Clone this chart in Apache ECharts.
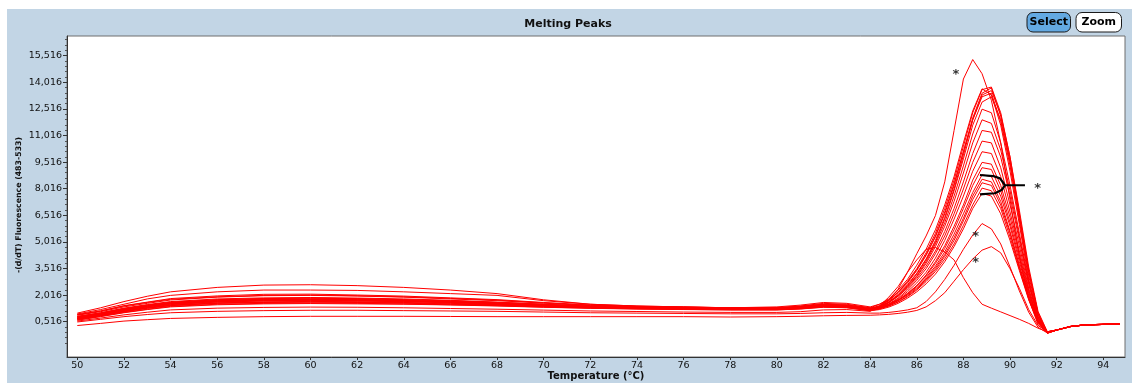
<!DOCTYPE html>
<html>
<head>
<meta charset="utf-8">
<title>Melting Peaks</title>
<script src="https://cdn.jsdelivr.net/npm/echarts@6/dist/echarts.min.js"></script>
<style>
  html, body { margin: 0; padding: 0; background: #ffffff; }
  #chart { width: 1132px; height: 383px; }
</style>
</head>
<body>
<div id="chart"></div>
<script>
// Temperature grid shared by every melting curve (°C)
const temps = [50, 51, 52, 53, 54, 56, 58, 60, 62, 64, 66, 68, 70, 72, 74, 76, 78, 80, 81, 82, 83, 84,
  84.4, 84.8, 85.2, 85.6, 86, 86.4, 86.8, 87.2, 87.6, 88,
  88.4, 88.8, 89.2, 89.6, 90, 90.4, 90.8, 91.2, 91.6, 92,
  92.6, 93.2, 94, 94.7];

// -(d/dT) fluorescence per sample, one value per temperature above
const wellTall = [0.9, 1.12, 1.4, 1.6, 1.78,
  1.92, 2.0, 2.02, 1.98, 1.92, 1.83, 1.73, 1.58, 1.44, 1.37, 1.33, 1.3,
  1.3, 1.37, 1.5, 1.46, 1.3,
  1.5, 1.75, 2.35, 3.3, 4.35, 5.35, 6.5, 8.4, 11.3, 14.2,
  15.3, 14.5, 13.0, 10.6, 7.4, 4.2, 1.8, 0.35, -0.1, 0.05,
  0.25, 0.34, 0.37, 0.38];
const wellEarly = [0.55, 0.72, 0.9, 1.05, 1.18,
  1.28, 1.32, 1.34, 1.33, 1.3, 1.26, 1.22, 1.17, 1.12, 1.09, 1.06, 1.04,
  1.04, 1.08, 1.18, 1.2, 1.1,
  1.4, 1.9, 2.5, 3.3, 4.0, 4.6, 4.7, 4.45, 4.0, 3.0,
  2.15, 1.5, 1.28, 1.07, 0.86, 0.65, 0.42, 0.15, -0.05, 0.05,
  0.24, 0.33, 0.36, 0.37];
const wellLowA = [0.5, 0.65, 0.8, 0.92, 1.02,
  1.1, 1.14, 1.16, 1.16, 1.14, 1.12, 1.1, 1.06, 1.02, 1.0, 0.98, 0.96,
  0.96, 0.98, 1.02, 1.04, 1.0,
  1.0, 1.04, 1.1, 1.18, 1.3, 1.65, 2.2, 2.9, 3.7, 4.6,
  5.4, 6.05, 5.75, 4.9, 3.6, 2.25, 1.05, 0.2, -0.12, 0.05,
  0.24, 0.33, 0.36, 0.37];
const wellLowB = [0.3, 0.42, 0.55, 0.63, 0.7,
  0.76, 0.8, 0.82, 0.82, 0.82, 0.81, 0.8, 0.8, 0.8, 0.8, 0.8, 0.78,
  0.8, 0.82, 0.85, 0.87, 0.88,
  0.9, 0.93, 0.98, 1.05, 1.15, 1.35, 1.7, 2.15, 2.8, 3.45,
  4.05, 4.55, 4.75, 4.4, 3.5, 2.4, 1.2, 0.3, -0.05, 0.05,
  0.24, 0.33, 0.36, 0.37];
const well01 = [0.92, 1.12, 1.42, 1.62, 1.82,
  1.97, 2.06, 2.07, 2.02, 1.96, 1.86, 1.76, 1.6, 1.46, 1.38, 1.34, 1.3,
  1.3, 1.38, 1.5, 1.45, 1.26,
  1.42, 1.75, 2.2, 2.8, 3.5, 4.4, 5.5, 6.9, 8.5, 10.4,
  12.3, 13.6, 13.75, 12.3, 9.8, 6.6, 3.4, 1.0, -0.08, 0.05,
  0.24, 0.34, 0.37, 0.38];
const well02 = [0.8, 1.0, 1.25, 1.45, 1.6,
  1.75, 1.82, 1.85, 1.82, 1.76, 1.7, 1.6, 1.5, 1.38, 1.32, 1.3, 1.27,
  1.27, 1.33, 1.46, 1.42, 1.22,
  1.38, 1.7, 2.15, 2.7, 3.4, 4.25, 5.3, 6.6, 8.2, 10.1,
  12.0, 13.4, 13.7, 12.1, 9.6, 6.4, 3.3, 0.95, -0.14, 0.04,
  0.25, 0.33, 0.36, 0.37];
const well03 = [1.0, 1.3, 1.65, 1.95, 2.2,
  2.45, 2.58, 2.6, 2.55, 2.45, 2.3, 2.1, 1.75, 1.5, 1.4, 1.35, 1.3,
  1.35, 1.45, 1.6, 1.55, 1.35,
  1.5, 1.8, 2.3, 2.9, 3.7, 4.6, 5.7, 7.1, 8.7, 10.6,
  12.4, 13.65, 13.3, 11.6, 9.0, 6.0, 2.9, 0.8, -0.1, 0.05,
  0.25, 0.34, 0.37, 0.38];
const well04 = [0.7, 0.9, 1.15, 1.35, 1.5,
  1.64, 1.7, 1.72, 1.7, 1.66, 1.6, 1.52, 1.43, 1.34, 1.29, 1.27, 1.24,
  1.24, 1.3, 1.42, 1.38, 1.2,
  1.35, 1.65, 2.05, 2.6, 3.25, 4.05, 5.1, 6.4, 8.0, 9.9,
  11.9, 13.3, 13.55, 12.2, 9.8, 6.8, 3.6, 1.1, -0.05, 0.05,
  0.24, 0.33, 0.36, 0.37];
const well05 = [0.78, 0.98, 1.22, 1.42, 1.58,
  1.72, 1.78, 1.8, 1.78, 1.72, 1.66, 1.56, 1.46, 1.36, 1.31, 1.28, 1.25,
  1.25, 1.32, 1.44, 1.4, 1.21,
  1.4, 1.72, 2.18, 2.75, 3.45, 4.3, 5.35, 6.7, 8.3, 10.1,
  11.9, 13.2, 13.4, 11.8, 9.3, 6.2, 3.1, 0.9, -0.12, 0.05,
  0.25, 0.34, 0.37, 0.38];
const well06 = [0.65, 0.85, 1.08, 1.28, 1.42,
  1.55, 1.6, 1.62, 1.6, 1.56, 1.5, 1.45, 1.36, 1.3, 1.25, 1.22, 1.2,
  1.2, 1.26, 1.36, 1.33, 1.16,
  1.3, 1.6, 2.0, 2.55, 3.2, 4.0, 5.0, 6.3, 7.9, 9.7,
  11.6, 12.9, 13.2, 11.9, 9.5, 6.5, 3.4, 1.0, -0.08, 0.05,
  0.24, 0.33, 0.36, 0.37];
const well07 = [0.82, 1.02, 1.28, 1.48, 1.65,
  1.8, 1.86, 1.88, 1.85, 1.8, 1.72, 1.62, 1.5, 1.38, 1.33, 1.29, 1.26,
  1.26, 1.33, 1.45, 1.41, 1.22,
  1.36, 1.62, 2.0, 2.5, 3.1, 3.9, 4.9, 6.1, 7.6, 9.3,
  11.1, 12.5, 12.3, 10.6, 8.2, 5.5, 2.8, 0.8, -0.1, 0.05,
  0.25, 0.34, 0.37, 0.38];
const well08 = [0.72, 0.92, 1.16, 1.36, 1.52,
  1.66, 1.72, 1.74, 1.72, 1.68, 1.62, 1.54, 1.44, 1.35, 1.3, 1.27, 1.24,
  1.24, 1.3, 1.42, 1.38, 1.19,
  1.32, 1.58, 1.95, 2.45, 3.05, 3.8, 4.75, 5.9, 7.3, 8.9,
  10.6, 11.9, 11.7, 10.2, 7.9, 5.3, 2.7, 0.75, -0.13, 0.04,
  0.24, 0.33, 0.36, 0.37];
const well09 = [0.88, 1.08, 1.35, 1.55, 1.74,
  1.9, 1.98, 2.0, 1.96, 1.9, 1.8, 1.7, 1.56, 1.42, 1.36, 1.31, 1.28,
  1.28, 1.36, 1.48, 1.43, 1.24,
  1.36, 1.6, 1.95, 2.4, 2.95, 3.65, 4.5, 5.6, 6.9, 8.4,
  10.0, 11.3, 11.2, 9.8, 7.6, 5.1, 2.6, 0.7, -0.1, 0.05,
  0.25, 0.34, 0.37, 0.38];
const well10 = [0.68, 0.88, 1.1, 1.3, 1.45,
  1.58, 1.63, 1.66, 1.64, 1.6, 1.55, 1.48, 1.4, 1.32, 1.27, 1.25, 1.22,
  1.22, 1.28, 1.4, 1.36, 1.18,
  1.3, 1.52, 1.85, 2.3, 2.85, 3.5, 4.35, 5.35, 6.6, 8.0,
  9.5, 10.7, 10.6, 9.2, 7.1, 4.8, 2.4, 0.65, -0.06, 0.05,
  0.24, 0.33, 0.36, 0.37];
const well11 = [0.76, 0.96, 1.2, 1.4, 1.56,
  1.7, 1.76, 1.78, 1.76, 1.71, 1.64, 1.56, 1.46, 1.36, 1.31, 1.28, 1.25,
  1.25, 1.31, 1.43, 1.39, 1.2,
  1.3, 1.5, 1.8, 2.2, 2.7, 3.3, 4.1, 5.1, 6.3, 7.6,
  9.0, 10.1, 10.0, 8.7, 6.7, 4.5, 2.3, 0.6, -0.1, 0.05,
  0.25, 0.34, 0.37, 0.38];
const well12 = [0.62, 0.82, 1.04, 1.22, 1.38,
  1.5, 1.55, 1.57, 1.55, 1.52, 1.47, 1.42, 1.34, 1.28, 1.24, 1.21, 1.18,
  1.18, 1.24, 1.34, 1.31, 1.14,
  1.24, 1.44, 1.72, 2.1, 2.55, 3.15, 3.9, 4.8, 5.9, 7.1,
  8.5, 9.5, 9.4, 8.2, 6.4, 4.3, 2.2, 0.6, -0.12, 0.04,
  0.24, 0.33, 0.36, 0.37];
const well13 = [0.8, 1.0, 1.25, 1.45, 1.62,
  1.76, 1.82, 1.84, 1.81, 1.76, 1.69, 1.6, 1.49, 1.38, 1.32, 1.29, 1.26,
  1.26, 1.32, 1.44, 1.4, 1.21,
  1.3, 1.48, 1.75, 2.1, 2.55, 3.1, 3.8, 4.65, 5.7, 6.9,
  8.2, 9.2, 9.1, 7.9, 6.1, 4.1, 2.1, 0.55, -0.1, 0.05,
  0.25, 0.34, 0.37, 0.38];
const well14 = [0.7, 0.9, 1.12, 1.32, 1.48,
  1.62, 1.68, 1.7, 1.68, 1.64, 1.58, 1.5, 1.42, 1.33, 1.28, 1.26, 1.23,
  1.23, 1.29, 1.4, 1.37, 1.18,
  1.26, 1.44, 1.7, 2.05, 2.5, 3.0, 3.65, 4.45, 5.45, 6.6,
  7.8, 8.8, 8.7, 7.6, 5.9, 3.9, 2.0, 0.55, -0.07, 0.05,
  0.24, 0.33, 0.36, 0.37];
const well15 = [0.95, 1.2, 1.5, 1.8, 2.0,
  2.2, 2.3, 2.3, 2.28, 2.2, 2.1, 2.0, 1.7, 1.5, 1.4, 1.35, 1.3,
  1.3, 1.4, 1.55, 1.5, 1.3,
  1.36, 1.5, 1.72, 2.02, 2.42, 2.92, 3.55, 4.3, 5.25, 6.35,
  7.6, 8.55, 8.4, 7.3, 5.6, 3.7, 1.9, 0.5, -0.1, 0.05,
  0.25, 0.34, 0.37, 0.38];
const well16 = [0.66, 0.86, 1.08, 1.27, 1.43,
  1.56, 1.61, 1.63, 1.61, 1.58, 1.52, 1.46, 1.38, 1.3, 1.26, 1.24, 1.21,
  1.21, 1.27, 1.38, 1.35, 1.16,
  1.24, 1.4, 1.64, 1.96, 2.36, 2.85, 3.45, 4.2, 5.1, 6.2,
  7.4, 8.35, 8.2, 7.1, 5.5, 3.6, 1.85, 0.5, -0.13, 0.04,
  0.24, 0.33, 0.36, 0.37];
const well17 = [0.74, 0.94, 1.18, 1.38, 1.54,
  1.68, 1.74, 1.76, 1.73, 1.69, 1.62, 1.54, 1.45, 1.35, 1.3, 1.27, 1.24,
  1.24, 1.3, 1.42, 1.38, 1.19,
  1.26, 1.4, 1.62, 1.92, 2.3, 2.78, 3.35, 4.05, 4.9, 5.95,
  7.1, 8.05, 7.9, 6.9, 5.3, 3.5, 1.8, 0.48, -0.1, 0.05,
  0.25, 0.34, 0.37, 0.38];
const well18 = [0.6, 0.8, 1.02, 1.2, 1.35,
  1.47, 1.52, 1.54, 1.52, 1.5, 1.46, 1.4, 1.33, 1.27, 1.23, 1.2, 1.18,
  1.18, 1.23, 1.33, 1.3, 1.13,
  1.2, 1.34, 1.55, 1.84, 2.2, 2.65, 3.2, 3.9, 4.75, 5.75,
  6.9, 7.75, 7.6, 6.6, 5.1, 3.4, 1.75, 0.45, -0.06, 0.04,
  0.24, 0.33, 0.36, 0.37];

const wells = [wellLowB, wellLowA, wellEarly, well18, well17, well16, well15, well14, well13, well12,
  well11, well10, well09, well08, well07, well06, well05, well04, well03, well02, well01, wellTall];

// Axis ticks
const xTicks = [50, 52, 54, 56, 58, 60, 62, 64, 66, 68, 70, 72, 74, 76, 78, 80, 82, 84, 86, 88, 90, 92, 94];
const yTicks = [0.516, 2.016, 3.516, 5.016, 6.516, 8.016, 9.516, 11.016, 12.516, 14.016, 15.516];

// Hand-drawn annotations: asterisks and the brace grouping the mid-height peaks
const starMarks = [[87.68, 14.61], [88.53, 5.46], [88.53, 4.0], [91.18, 8.17]];
const bracePath = [[88.71, 8.79], [89.28, 8.73], [89.57, 8.60], [89.71, 8.35], [89.78, 8.21],
  [90.64, 8.21], [89.78, 8.21], [89.74, 8.13], [89.64, 7.94], [89.35, 7.76], [88.71, 7.70]];

const Y_MIN = -1.475, Y_MAX = 16.627;
const X_MIN = 49.558, X_MAX = 94.93;

// minor ticks: four between consecutive labelled ticks
const yMinor = [];
for (let k = -1; k < yTicks.length; k++) {
  const base = 0.516 + 1.5 * k;
  for (let j = 1; j <= 4; j++) {
    const v = +(base + 0.3 * j).toFixed(3);
    if (v > Y_MIN && v < Y_MAX) yMinor.push(v);
  }
}

const chart = echarts.init(document.getElementById('chart'), null, { renderer: 'canvas' });

const curveSeries = wells.map((w, idx) => ({
  type: 'line',
  name: 'well' + idx,
  data: temps.map((t, i) => [t, w[i]]),
  symbol: 'none',
  showSymbol: false,
  silent: true,
  lineStyle: { color: '#ff0000', width: 1 },
  z: 2
}));

const labelFont = 'DejaVu Sans';

chart.setOption({
  animation: false,
  backgroundColor: '#ffffff',
  graphic: [
    { type: 'rect', z: -10, shape: { x: 7, y: 9, width: 1125, height: 374 }, style: { fill: '#c2d5e5' } },
    { type: 'text', x: 568, y: 24,
      style: { text: 'Melting Peaks', fill: '#111', font: 'bold 11px "DejaVu Sans"', textAlign: 'center', textVerticalAlign: 'middle' } },
    { type: 'rect', shape: { x: 1027, y: 12.5, width: 43.5, height: 19.5, r: 6 },
      style: { fill: '#63a9e2', stroke: '#1a1a1a', lineWidth: 1 } },
    { type: 'text', x: 1048.75, y: 22.5,
      style: { text: 'Select', fill: '#000', font: 'bold 11px "DejaVu Sans"', textAlign: 'center', textVerticalAlign: 'middle' } },
    { type: 'rect', shape: { x: 1076, y: 12.5, width: 45.5, height: 19.5, r: 6 },
      style: { fill: '#ffffff', stroke: '#1a1a1a', lineWidth: 1 } },
    { type: 'text', x: 1098.75, y: 22.5,
      style: { text: 'Zoom', fill: '#000', font: 'bold 11px "DejaVu Sans"', textAlign: 'center', textVerticalAlign: 'middle' } }
  ],
  grid: {
    left: 67, top: 36, right: 7, bottom: 26,
    outerBoundsMode: 'none', containLabel: false,
    show: true, backgroundColor: '#ffffff', borderColor: '#6e6e6e', borderWidth: 1
  },
  xAxis: {
    type: 'value', min: X_MIN, max: X_MAX,
    name: 'Temperature (°C)', nameLocation: 'middle', nameGap: 14, nameMoveOverlap: false,
    nameTextStyle: { fontFamily: labelFont, fontWeight: 'bold', fontSize: 10, color: '#111' },
    axisLine: { show: true, onZero: false, lineStyle: { color: '#333', width: 1 } },
    axisTick: { show: true, length: 3, customValues: xTicks, lineStyle: { color: '#333' } },
    axisLabel: { customValues: xTicks, margin: 4, fontFamily: labelFont, fontSize: 9.5, color: '#111' },
    splitLine: { show: false }
  },
  yAxis: [{
    type: 'value', min: Y_MIN, max: Y_MAX,
    name: '-(d/dT) Fluorescence (483-533)', nameLocation: 'middle', nameRotate: 90, nameGap: 44,
    nameMoveOverlap: false,
    nameTextStyle: { fontFamily: labelFont, fontWeight: 'bold', fontSize: 7.8, color: '#111', padding: [0, 17, 0, 0] },
    axisLine: { show: true, onZero: false, lineStyle: { color: '#333', width: 1 } },
    axisTick: { show: true, length: 4, customValues: yTicks, lineStyle: { color: '#333' } },
    axisLabel: {
      customValues: yTicks, margin: 5, fontFamily: labelFont, fontSize: 9.5, color: '#111',
      formatter: v => v.toFixed(3).replace('.', ',')
    },
    splitLine: { show: false }
  }, {
    type: 'value', min: Y_MIN, max: Y_MAX, position: 'left', offset: 0,
    axisLine: { show: false },
    axisTick: { show: true, length: 2, customValues: yMinor, lineStyle: { color: '#555' } },
    axisLabel: { show: false },
    splitLine: { show: false }
  }],
  series: curveSeries.concat([
    {
      type: 'line', name: 'brace', data: bracePath, symbol: 'none', silent: true,
      lineStyle: { color: '#000', width: 2.2 }, z: 5
    },
    {
      type: 'scatter', name: 'stars', data: starMarks, symbolSize: 0, silent: true, z: 6,
      label: {
        show: true, position: 'inside', formatter: '*', offset: [0, 3],
        fontFamily: labelFont, fontWeight: 'bold', fontSize: 13, color: '#000'
      }
    }
  ])
});
</script>
</body>
</html>
